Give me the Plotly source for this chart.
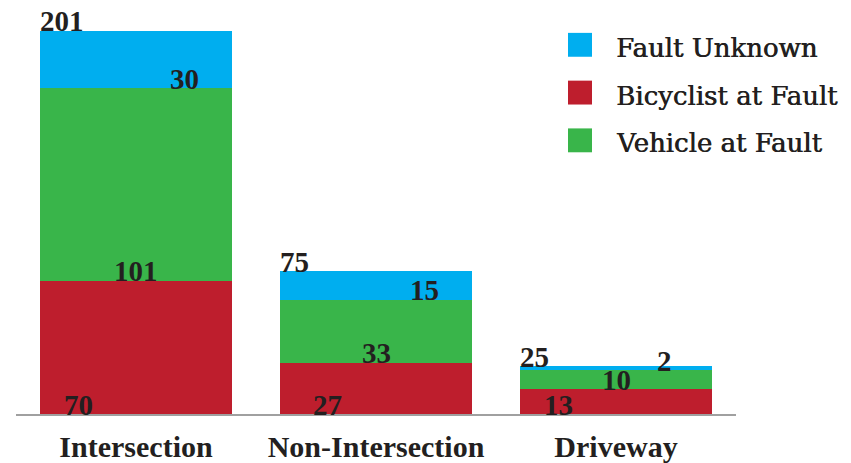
import plotly.graph_objects as go

categories = ["Intersection", "Non-Intersection", "Driveway"]
bicyclist = [70, 27, 13]
vehicle = [101, 33, 10]
unknown = [30, 15, 2]
totals = [201, 75, 25]
series_names = ["Bicyclist at Fault", "Vehicle at Fault", "Fault Unknown"]
legend_order = ["Fault Unknown", "Bicyclist at Fault", "Vehicle at Fault"]

colors = {"Bicyclist at Fault": "#BE1E2D", "Vehicle at Fault": "#39B54A", "Fault Unknown": "#00AEEF"}
values = {"Bicyclist at Fault": bicyclist, "Vehicle at Fault": vehicle, "Fault Unknown": unknown}

TXT = "#231F20"
NUMFONT = dict(family="Liberation Serif", size=29, color=TXT, weight="bold")

# page body has an 8px margin, so the figure is drawn 8px right/down
OFF = 8
W, H = 851 - OFF, 463 - OFF
ML, MT, PW = 16 - OFF, 0, 720
MB = H - (416 - OFF)
MR = W - ML - PW
PH = H - MT - MB
YMAX = PH / 1.9154

fig = go.Figure()
for name in series_names:
    fig.add_trace(go.Bar(x=categories, y=values[name], name=name,
                         marker=dict(color=colors[name], line=dict(width=0)),
                         width=0.8, showlegend=False, hoverinfo="x+y+name"))

ann = []
ys = -8.5
bic_off = [-58, -49, -58]
for i, c in enumerate(categories):
    ann.append(dict(x=c, y=totals[i], xref="x", yref="y", text=str(totals[i]), showarrow=False,
                    xanchor="left", yanchor="bottom", xshift=-98, yshift=ys, font=NUMFONT))
    ann.append(dict(x=c, y=0, xref="x", yref="y", text=str(bicyclist[i]), showarrow=False,
                    xanchor="center", yanchor="bottom", xshift=bic_off[i], yshift=ys, font=NUMFONT))
    ann.append(dict(x=c, y=bicyclist[i], xref="x", yref="y", text=str(vehicle[i]), showarrow=False,
                    xanchor="center", yanchor="bottom", xshift=0, yshift=ys, font=NUMFONT))
    ann.append(dict(x=c, y=bicyclist[i] + vehicle[i], xref="x", yref="y", text=str(unknown[i]), showarrow=False,
                    xanchor="center", yanchor="bottom", xshift=48, yshift=ys, font=NUMFONT))

shapes = []
BASE = 416 - OFF  # baseline pixel in figure coords
for k, name in enumerate(legend_order):
    top = 33 + 48 * k - OFF
    shapes.append(dict(type="rect", xref="paper", yref="paper",
                       x0=(568 - OFF - ML) / PW, x1=(592 - OFF - ML) / PW,
                       y0=(BASE - (top + 24)) / PH, y1=(BASE - top) / PH,
                       fillcolor=colors[name], line=dict(width=0)))
    ann.append(dict(x=(614 - OFF - ML) / PW, y=(BASE - (top + 15)) / PH, xref="paper", yref="paper",
                    text=name, showarrow=False, xanchor="left", yanchor="middle",
                    font=dict(family="DejaVu Serif", size=26, color=TXT,
                              shadow="0.6px 0 0 #231F20")))

fig.update_layout(
    width=W, height=H, barmode="stack", bargap=0.2,
    margin=dict(l=ML, r=MR, t=MT, b=MB, pad=0),
    plot_bgcolor="white", paper_bgcolor="white",
    xaxis=dict(showline=True, linecolor="#A0A0A0", linewidth=1.5, ticks="",
               tickfont=dict(family="Liberation Serif", size=30, color=TXT, weight="bold"),
               ticklabelstandoff=5,
               range=[-0.5, 2.5], showgrid=False, zeroline=False),
    yaxis=dict(visible=False, range=[0, YMAX], showgrid=False, zeroline=False),
    annotations=ann, shapes=shapes, showlegend=False,
)

fig.write_html("out.html", config={"displayModeBar": False})
